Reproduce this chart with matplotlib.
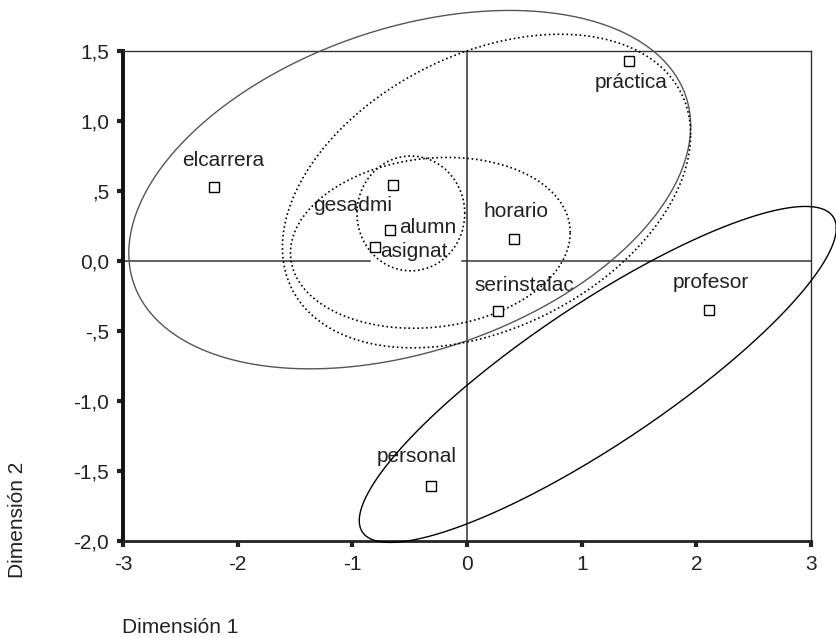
import numpy as np
import matplotlib
matplotlib.use("Agg")
import matplotlib.pyplot as plt

plt.rcParams['font.family'] = ['Liberation Sans', 'DejaVu Sans']

# category points (Dimension 1, Dimension 2)
labels = ['elcarrera', 'gesadmi', 'alumn', 'asignat', 'horario',
          'serinstalac', 'práctica', 'profesor', 'personal']
dim1 = [-2.21, -0.65, -0.67, -0.80, 0.41, 0.27, 1.41, 2.11, -0.31]
dim2 = [0.53, 0.54, 0.22, 0.10, 0.16, -0.36, 1.43, -0.35, -1.61]
# label offsets in pixels (dx, dy) and alignment
lab_dx = [10, -40, 9, 5, 2, 26, 2, 2, -15]
lab_dy = [21, -26, -3, -10, 22, 20, -27, 22, 24]
lab_ha = ['center', 'center', 'left', 'left', 'center', 'center', 'center', 'center', 'center']

# ellipses: centre, half range in x and y, correlation-like tilt
ell_cx = [-0.50, 0.17, -0.32, -0.49, 1.14]
ell_cy = [0.51, 0.50, 0.13, 0.34, -0.81]
ell_hx = [2.45, 1.78, 1.22, 0.47, 2.08]
ell_hy = [1.28, 1.12, 0.61, 0.41, 1.20]
ell_r = [0.355, 0.36, 0.12, 0.0, 0.87]
ell_style = [('#555555', '-'), ('black', ':'), ('black', ':'), ('black', ':'), ('black', '-')]

xticks = [-3, -2, -1, 0, 1, 2, 3]
yticks = [1.5, 1.0, 0.5, 0.0, -0.5, -1.0, -1.5, -2.0]
ytick_labels = ['1,5', '1,0', ',5', '0,0', '-,5', '-1,0', '-1,5', '-2,0']

fig = plt.figure(figsize=(8.37, 6.38), dpi=100)
ax = fig.add_axes([0.147, 0.152, 0.822, 0.768])

# reference lines
ax.plot([-3, -0.85], [0, 0], color='#333333', lw=1.1, zorder=1)
ax.plot([-0.04, 3], [0, 0], color='#333333', lw=1.1, zorder=1)
ax.axvline(0, color='#333333', lw=1.1, zorder=1)

t = np.linspace(0, 2 * np.pi, 400)
for cx, cy, hx, hy, r, (col, ls) in zip(ell_cx, ell_cy, ell_hx, ell_hy, ell_r, ell_style):
    s = np.sqrt(1 - r ** 2)
    ex = cx + hx * np.cos(t)
    ey = cy + hy * (r * np.cos(t) + s * np.sin(t))
    ax.plot(ex, ey, color=col, ls=ls, lw=1.2 if ls == ':' else 1.0,
            clip_on=False, zorder=3)

ax.plot(dim1, dim2, ls='none', marker='s', ms=6.5, mfc='white', mec='black',
        mew=1.0, zorder=4)
for x, y, lab, dx, dy, ha in zip(dim1, dim2, labels, lab_dx, lab_dy, lab_ha):
    ax.annotate(lab, (x, y), xytext=(dx, dy), textcoords='offset pixels',
                ha=ha, va='baseline', fontsize=15, color='#222222', zorder=2)

ax.set_xlim(-3, 3)
ax.set_ylim(-2, 1.5)
ax.set_xticks(xticks)
ax.set_xticklabels([str(v) for v in xticks])
ax.set_yticks(yticks)
ax.set_yticklabels(ytick_labels)
ax.tick_params(direction='out', length=4, width=3, color='#222222',
               labelsize=15, labelcolor='#222222', pad=6)

for side in ['top', 'right']:
    ax.spines[side].set_linewidth(1.0)
    ax.spines[side].set_color('#333333')
ax.spines['left'].set_linewidth(2.8)
ax.spines['left'].set_color('#111111')
ax.spines['bottom'].set_linewidth(2.0)
ax.spines['bottom'].set_color('#222222')

fig.text(0.215, 0.016, 'Dimensión 1', fontsize=15, ha='center', va='center', color='#222222')
fig.text(0.0215, 0.185, 'Dimensión 2', fontsize=15, ha='center', va='center',
         rotation=90, color='#222222')

fig.savefig('out.png', dpi=100)
